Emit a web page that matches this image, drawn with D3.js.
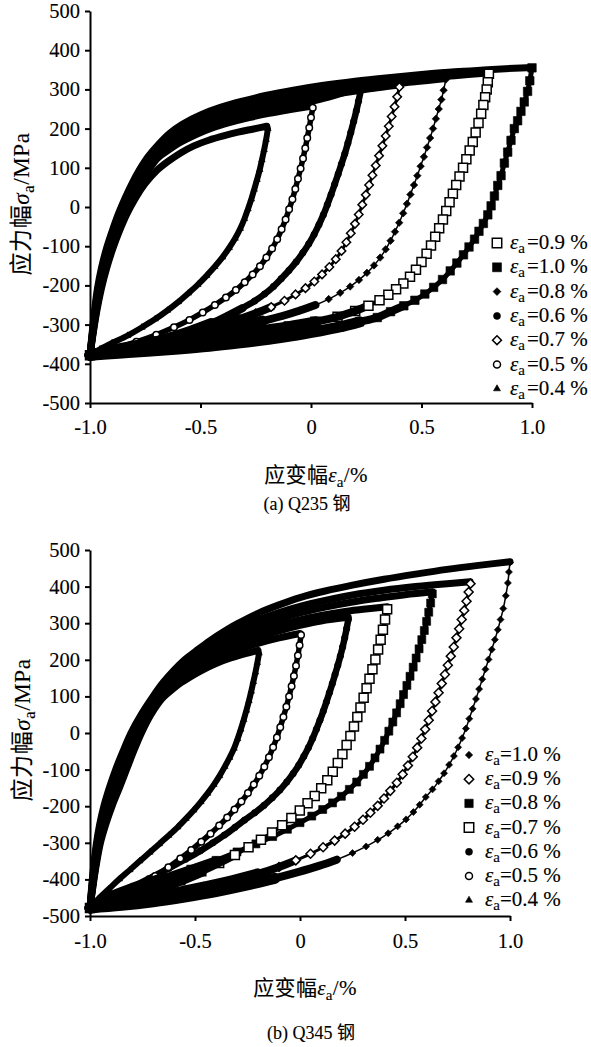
<!DOCTYPE html>
<html><head><meta charset="utf-8">
<script src="https://cdn.jsdelivr.net/npm/d3@7"></script>
<style>
body{margin:0;background:#fff}
svg{display:block;font-family:"Liberation Serif","Times New Roman","Noto Sans CJK SC",serif}
text{font-family:"Liberation Serif","Times New Roman","Noto Sans CJK SC",serif;fill:#000;stroke:#000;stroke-width:0.12px}
</style>
</head><body>
<svg id="c" width="591" height="1047"></svg>
<script>
// ---------- axis ticks ----------
const yTicks = [-500,-400,-300,-200,-100,0,100,200,300,400,500];
const xTicks = [-1,-0.5,0,0.5,1];
const xTickLabels = ["-1.0","-0.5","0","0.5","1.0"];
const amplitudes = ["0.4","0.5","0.6","0.7","0.8","0.9","1.0"];
const legendOrderA = ["0.9","1.0","0.8","0.6","0.7","0.5","0.4"];
const legendOrderB = ["1.0","0.9","0.8","0.7","0.6","0.5","0.4"];

// ---------- (a) Q235: loading (up) and unloading (down) branches, [strain %, stress MPa] ----------
const q235_up_10 = [[-1,-378],[-0.99,-320],[-0.979,-262],[-0.966,-207],[-0.948,-155],[-0.926,-107],[-0.9,-62],[-0.872,-18],[-0.842,22],[-0.81,60],[-0.775,96],[-0.738,128],[-0.69,160],[-0.64,188],[-0.58,212],[-0.5,235],[-0.41,254],[-0.31,270],[-0.2,285],[-0.08,298],[0.05,310],[0.2,321],[0.35,330],[0.5,338],[0.65,345],[0.8,350],[0.92,354],[1.0,356]];
const q235_up_09 = [[-1,-378],[-0.989,-320],[-0.977,-262],[-0.963,-207],[-0.944,-155],[-0.921,-107],[-0.895,-62],[-0.866,-18],[-0.835,22],[-0.802,60],[-0.767,96],[-0.729,128],[-0.68,157],[-0.63,183],[-0.57,205],[-0.5,225],[-0.41,243],[-0.31,259],[-0.2,273],[-0.08,286],[0.05,298],[0.2,310],[0.35,320],[0.5,328],[0.65,335],[0.8,342]];
const q235_up_08 = [[-1,-378],[-0.988,-320],[-0.975,-262],[-0.96,-207],[-0.94,-155],[-0.916,-107],[-0.889,-62],[-0.86,-18],[-0.828,22],[-0.794,60],[-0.758,96],[-0.72,128],[-0.67,153],[-0.62,178],[-0.56,200],[-0.49,219],[-0.41,236],[-0.31,252],[-0.2,266],[-0.08,279],[0.05,291],[0.2,303],[0.35,313],[0.48,320],[0.6,327]];
const q235_up_07 = [[-1,-378],[-0.988,-320],[-0.974,-262],[-0.958,-207],[-0.937,-155],[-0.912,-107],[-0.884,-62],[-0.854,-18],[-0.821,22],[-0.786,60],[-0.75,96],[-0.711,128],[-0.66,150],[-0.61,174],[-0.55,195],[-0.48,213],[-0.4,229],[-0.3,245],[-0.2,258],[-0.08,271],[0.05,283],[0.18,294],[0.3,304],[0.4,311]];
const q235_up_06 = [[-1,-378],[-0.987,-320],[-0.972,-262],[-0.955,-207],[-0.933,-155],[-0.908,-107],[-0.879,-62],[-0.848,-18],[-0.814,22],[-0.778,60],[-0.741,96],[-0.702,128],[-0.655,147],[-0.6,170],[-0.54,190],[-0.47,207],[-0.39,222],[-0.3,236],[-0.2,249],[-0.1,260],[0.0,269],[0.08,280],[0.15,292],[0.2,302]];
const q235_up_05 = [[-1,-378],[-0.986,-320],[-0.97,-262],[-0.952,-207],[-0.929,-155],[-0.903,-107],[-0.873,-62],[-0.841,-18],[-0.806,22],[-0.77,60],[-0.732,96],[-0.693,125],[-0.65,143],[-0.59,165],[-0.52,185],[-0.45,201],[-0.37,215],[-0.28,228],[-0.19,239],[-0.1,248],[0.0,257]];
const q235_up_04 = [[-1,-378],[-0.985,-320],[-0.968,-262],[-0.948,-207],[-0.924,-155],[-0.897,-107],[-0.867,-62],[-0.833,-18],[-0.795,22],[-0.75,60],[-0.7,92],[-0.65,115],[-0.59,138],[-0.53,156],[-0.46,171],[-0.4,181],[-0.33,191],[-0.26,199],[-0.2,206]];

const q235_dn_10 = [[1.0,355],[0.99,322],[0.98,295],[0.965,268],[0.95,244],[0.935,220],[0.92,200],[0.905,170],[0.89,140],[0.875,112],[0.86,80],[0.845,55],[0.83,28],[0.815,3],[0.8,-20],[0.78,-42],[0.76,-62],[0.74,-82],[0.715,-102],[0.69,-122],[0.66,-143],[0.63,-163],[0.595,-185],[0.555,-205],[0.515,-222],[0.47,-238],[0.42,-252],[0.36,-267],[0.3,-282],[0.22,-293],[0.13,-306],[0.03,-317],[-0.08,-328],[-0.2,-338],[-0.33,-347],[-0.46,-355],[-0.6,-362],[-0.74,-368],[-0.87,-373],[-1,-378]];
const q235_dn_09 = [[0.805,340],[0.8,318],[0.795,300],[0.788,280],[0.78,260],[0.77,238],[0.758,214],[0.745,190],[0.732,166],[0.718,144],[0.703,122],[0.688,100],[0.672,78],[0.657,56],[0.642,34],[0.627,12],[0.612,-10],[0.597,-32],[0.58,-54],[0.562,-76],[0.543,-98],[0.523,-119],[0.5,-140],[0.475,-160],[0.448,-178],[0.418,-195],[0.385,-210],[0.35,-224],[0.31,-238],[0.26,-252],[0.2,-265],[0.12,-280],[0.02,-293],[-0.1,-305],[-0.25,-318],[-0.4,-331],[-0.55,-342],[-0.7,-354],[-0.85,-366],[-1,-378]];
const q235_dn_08 = [[0.61,325],[0.6,298],[0.59,274],[0.578,250],[0.565,225],[0.552,200],[0.539,176],[0.525,152],[0.511,128],[0.496,104],[0.481,80],[0.466,56],[0.45,32],[0.434,8],[0.417,-16],[0.399,-40],[0.38,-63],[0.36,-86],[0.338,-108],[0.313,-129],[0.285,-149],[0.253,-168],[0.217,-186],[0.177,-203],[0.132,-219],[0.08,-235],[0.02,-250],[-0.05,-264],[-0.13,-278],[-0.22,-291],[-0.33,-305],[-0.46,-320],[-0.6,-334],[-0.74,-348],[-0.87,-362],[-1,-378]];
const q235_dn_07 = [[0.4,306],[0.39,281],[0.378,256],[0.365,231],[0.352,206],[0.338,181],[0.323,156],[0.308,131],[0.293,106],[0.278,81],[0.263,56],[0.248,31],[0.232,6],[0.216,-19],[0.199,-43],[0.18,-67],[0.16,-90],[0.138,-112],[0.112,-133],[0.083,-153],[0.05,-172],[0.015,-190],[-0.025,-207],[-0.07,-223],[-0.12,-239],[-0.18,-255],[-0.25,-271],[-0.33,-287],[-0.42,-303],[-0.52,-319],[-0.63,-335],[-0.75,-350],[-0.87,-364],[-1,-378]];
const q235_dn_06 = [[0.225,297],[0.215,270],[0.205,245],[0.193,218],[0.18,190],[0.167,163],[0.153,136],[0.138,110],[0.123,84],[0.107,58],[0.091,32],[0.074,6],[0.056,-20],[0.036,-45],[0.014,-70],[-0.01,-94],[-0.037,-117],[-0.067,-140],[-0.1,-162],[-0.135,-183],[-0.17,-203],[-0.21,-222],[-0.255,-240],[-0.31,-258],[-0.375,-277],[-0.45,-297],[-0.54,-316],[-0.64,-334],[-0.75,-351],[-0.87,-365],[-1,-378]];
const q235_dn_05 = [[0.008,253],[0.0,228],[-0.008,202],[-0.017,176],[-0.026,150],[-0.036,124],[-0.047,98],[-0.059,72],[-0.071,46],[-0.084,20],[-0.099,-6],[-0.115,-32],[-0.133,-57],[-0.153,-82],[-0.176,-106],[-0.202,-129],[-0.231,-151],[-0.264,-172],[-0.3,-192],[-0.34,-212],[-0.385,-231],[-0.435,-250],[-0.49,-269],[-0.55,-288],[-0.62,-307],[-0.7,-326],[-0.79,-344],[-0.89,-361],[-1,-378]];
const q235_dn_04 = [[-0.195,200],[-0.203,172],[-0.212,146],[-0.222,120],[-0.232,95],[-0.244,70],[-0.257,45],[-0.27,20],[-0.285,-5],[-0.301,-30],[-0.32,-55],[-0.343,-80],[-0.37,-104],[-0.4,-128],[-0.435,-152],[-0.472,-175],[-0.512,-198],[-0.555,-220],[-0.6,-242],[-0.65,-264],[-0.705,-286],[-0.765,-307],[-0.83,-328],[-0.9,-347],[-0.955,-363],[-1,-378]];

// ---------- (b) Q345 ----------
const q345_up_10 = [[-1,-478],[-0.992,-420],[-0.982,-360],[-0.969,-300],[-0.954,-250],[-0.934,-200],[-0.908,-150],[-0.878,-100],[-0.843,-50],[-0.805,0],[-0.757,50],[-0.7,100],[-0.652,138],[-0.6,172],[-0.55,200],[-0.5,222],[-0.43,252],[-0.36,278],[-0.3,298],[-0.2,327],[-0.1,350],[0,370],[0.12,388],[0.25,404],[0.4,420],[0.55,434],[0.7,447],[0.85,458],[1.0,468]];
const q345_up_09 = [[-1,-478],[-0.991,-420],[-0.98,-360],[-0.966,-300],[-0.95,-250],[-0.929,-200],[-0.903,-150],[-0.873,-100],[-0.838,-50],[-0.798,0],[-0.748,50],[-0.692,100],[-0.645,135],[-0.595,166],[-0.545,192],[-0.5,212],[-0.43,238],[-0.36,262],[-0.3,282],[-0.2,308],[-0.1,329],[0,346],[0.12,362],[0.25,377],[0.4,390],[0.55,400],[0.7,408],[0.81,413]];
const q345_up_08 = [[-1,-478],[-0.99,-420],[-0.978,-360],[-0.963,-300],[-0.946,-250],[-0.924,-200],[-0.897,-150],[-0.867,-100],[-0.832,-50],[-0.79,0],[-0.74,50],[-0.684,100],[-0.64,131],[-0.59,160],[-0.545,185],[-0.5,204],[-0.43,228],[-0.36,250],[-0.3,267],[-0.2,291],[-0.1,311],[0,328],[0.12,344],[0.25,358],[0.38,369],[0.5,378],[0.63,386]];
const q345_up_07 = [[-1,-478],[-0.989,-420],[-0.976,-360],[-0.96,-300],[-0.942,-250],[-0.918,-200],[-0.89,-150],[-0.86,-100],[-0.826,-50],[-0.785,0],[-0.735,50],[-0.678,100],[-0.635,128],[-0.585,155],[-0.54,178],[-0.5,196],[-0.43,218],[-0.36,238],[-0.3,254],[-0.2,276],[-0.1,294],[0,309],[0.1,321],[0.2,331],[0.3,338],[0.415,345]];
const q345_up_06 = [[-1,-478],[-0.988,-420],[-0.974,-360],[-0.957,-300],[-0.937,-250],[-0.912,-200],[-0.883,-150],[-0.853,-100],[-0.82,-50],[-0.78,0],[-0.73,50],[-0.672,100],[-0.63,124],[-0.58,150],[-0.535,171],[-0.5,188],[-0.43,208],[-0.36,226],[-0.3,240],[-0.2,261],[-0.1,279],[0,294],[0.1,306],[0.23,316]];
const q345_up_05 = [[-1,-478],[-0.987,-420],[-0.972,-360],[-0.954,-300],[-0.932,-250],[-0.905,-200],[-0.874,-150],[-0.843,-100],[-0.81,-50],[-0.772,0],[-0.722,50],[-0.665,98],[-0.62,120],[-0.575,143],[-0.53,163],[-0.5,178],[-0.43,197],[-0.36,213],[-0.3,226],[-0.2,245],[-0.1,260],[0,272]];
const q345_up_04 = [[-1,-478],[-0.986,-420],[-0.97,-360],[-0.95,-300],[-0.925,-250],[-0.895,-200],[-0.86,-150],[-0.826,-100],[-0.792,-50],[-0.755,0],[-0.71,50],[-0.655,95],[-0.61,118],[-0.565,138],[-0.515,156],[-0.465,172],[-0.4,190],[-0.33,205],[-0.26,217],[-0.2,226]];

const q345_dn_10 = [[1.0,466],[0.995,440],[0.99,410],[0.98,375],[0.968,340],[0.955,310],[0.942,282],[0.928,255],[0.913,228],[0.898,201],[0.883,174],[0.868,147],[0.853,120],[0.838,93],[0.822,66],[0.806,39],[0.79,12],[0.772,-14],[0.753,-39],[0.733,-63],[0.71,-87],[0.686,-110],[0.66,-132],[0.631,-154],[0.599,-175],[0.57,-196],[0.54,-216],[0.505,-236],[0.465,-255],[0.42,-274],[0.37,-292],[0.315,-310],[0.25,-328],[0.175,-346],[0.09,-363],[-0.01,-380],[-0.12,-397],[-0.25,-415],[-0.4,-433],[-0.55,-448],[-0.7,-461],[-0.85,-471],[-1,-478]];
const q345_dn_09 = [[0.812,408],[0.803,385],[0.793,360],[0.782,335],[0.77,310],[0.758,285],[0.745,260],[0.732,235],[0.718,210],[0.704,185],[0.69,160],[0.675,135],[0.66,110],[0.645,85],[0.629,60],[0.613,35],[0.596,10],[0.578,-15],[0.558,-40],[0.537,-65],[0.514,-89],[0.489,-113],[0.461,-136],[0.43,-158],[0.4,-179],[0.37,-199],[0.335,-218],[0.3,-237],[0.26,-256],[0.215,-275],[0.165,-294],[0.11,-312],[0.05,-330],[-0.02,-348],[-0.1,-366],[-0.2,-385],[-0.32,-403],[-0.46,-421],[-0.62,-440],[-0.8,-460],[-1,-478]];
const q345_dn_08 = [[0.63,380],[0.622,355],[0.613,330],[0.603,305],[0.592,280],[0.58,255],[0.567,230],[0.553,205],[0.539,180],[0.524,155],[0.509,130],[0.493,105],[0.477,80],[0.46,55],[0.442,30],[0.423,5],[0.403,-20],[0.381,-44],[0.357,-68],[0.331,-91],[0.302,-113],[0.27,-134],[0.235,-154],[0.197,-173],[0.155,-191],[0.108,-209],[0.056,-227],[0,-245],[-0.06,-263],[-0.13,-283],[-0.21,-303],[-0.3,-325],[-0.4,-348],[-0.52,-372],[-0.65,-397],[-0.8,-425],[-0.92,-452],[-1,-478]];
const q345_dn_07 = [[0.415,338],[0.405,310],[0.395,282],[0.384,255],[0.372,228],[0.359,201],[0.345,174],[0.331,148],[0.317,122],[0.303,96],[0.288,70],[0.273,44],[0.257,18],[0.24,-8],[0.222,-33],[0.202,-58],[0.18,-82],[0.156,-106],[0.13,-129],[0.101,-151],[0.07,-172],[0.036,-192],[-0.001,-212],[-0.041,-232],[-0.085,-252],[-0.133,-272],[-0.186,-292],[-0.245,-312],[-0.31,-333],[-0.385,-355],[-0.47,-378],[-0.57,-402],[-0.69,-428],[-0.84,-455],[-1,-478]];
const q345_dn_06 = [[0.23,310],[0.222,285],[0.213,260],[0.203,235],[0.192,210],[0.18,185],[0.167,160],[0.154,135],[0.14,110],[0.126,85],[0.111,60],[0.095,35],[0.078,10],[0.06,-15],[0.04,-40],[0.018,-64],[-0.006,-88],[-0.033,-111],[-0.063,-134],[-0.096,-156],[-0.132,-177],[-0.172,-198],[-0.216,-218],[-0.264,-238],[-0.31,-258],[-0.36,-279],[-0.415,-300],[-0.475,-322],[-0.545,-345],[-0.625,-370],[-0.72,-398],[-0.83,-430],[-0.93,-458],[-1,-478]];
const q345_dn_05 = [[0.005,268],[-0.002,240],[-0.01,212],[-0.019,184],[-0.029,156],[-0.04,128],[-0.052,100],[-0.065,72],[-0.079,44],[-0.094,16],[-0.11,-12],[-0.128,-39],[-0.148,-66],[-0.17,-92],[-0.194,-117],[-0.22,-141],[-0.248,-164],[-0.279,-187],[-0.312,-209],[-0.347,-231],[-0.385,-253],[-0.426,-275],[-0.47,-297],[-0.518,-320],[-0.57,-343],[-0.627,-367],[-0.69,-391],[-0.76,-416],[-0.84,-442],[-0.92,-462],[-1,-478]];
const q345_dn_04 = [[-0.195,218],[-0.203,192],[-0.212,166],[-0.222,140],[-0.232,114],[-0.243,88],[-0.255,62],[-0.268,36],[-0.282,10],[-0.297,-16],[-0.314,-42],[-0.335,-67],[-0.358,-92],[-0.383,-117],[-0.41,-141],[-0.44,-165],[-0.472,-188],[-0.506,-211],[-0.543,-234],[-0.582,-257],[-0.625,-280],[-0.67,-303],[-0.715,-326],[-0.763,-350],[-0.81,-374],[-0.86,-399],[-0.91,-426],[-0.96,-453],[-1,-478]];

// ---------- assemble ----------
const q235Data = {"0.4":[q235_up_04,q235_dn_04],"0.5":[q235_up_05,q235_dn_05],"0.6":[q235_up_06,q235_dn_06],"0.7":[q235_up_07,q235_dn_07],"0.8":[q235_up_08,q235_dn_08],"0.9":[q235_up_09,q235_dn_09],"1.0":[q235_up_10,q235_dn_10]};
const q345Data = {"0.4":[q345_up_04,q345_dn_04],"0.5":[q345_up_05,q345_dn_05],"0.6":[q345_up_06,q345_dn_06],"0.7":[q345_up_07,q345_dn_07],"0.8":[q345_up_08,q345_dn_08],"0.9":[q345_up_09,q345_dn_09],"1.0":[q345_up_10,q345_dn_10]};

// marker styles: [shape, filled, marker size px, unloading line width px]
const styleA = {"1.0":["square",true,8.5,5],"0.9":["square",false,9,4],"0.8":["diamond",true,7.5,1.5],"0.7":["diamond",false,8.5,3],"0.6":["circle",true,6.5,6.5],"0.5":["circle",false,6.5,5.5],"0.4":["triangle",true,6.5,6]};
const styleB = {"1.0":["diamond",true,7,1.5],"0.9":["diamond",false,9,3],"0.8":["square",true,8,5],"0.7":["square",false,9,4],"0.6":["circle",true,6.5,6.5],"0.5":["circle",false,6.5,5.5],"0.4":["triangle",true,6.5,6]};

const svg = d3.select("#c");
const FONT = '"Liberation Serif","Times New Roman","Noto Sans CJK SC",serif';

function symPath(shape, s){
  if (shape==="square") return d3.symbol(d3.symbolSquare, s*s)();
  if (shape==="diamond") return d3.symbol(d3.symbolSquare, s*s/2)();
  if (shape==="circle") return d3.symbol(d3.symbolCircle, Math.PI*s*s/4)();
  return d3.symbol(d3.symbolTriangle, s*s*0.433)();
}
function placeMarker(sel, shape, filled, s, px, py){
  sel.append("path").attr("d", symPath(shape,s))
    .attr("transform", `translate(${px},${py})` + (shape==="diamond" ? " rotate(45)" : ""))
    .attr("fill", filled ? "#000" : "#fff").attr("stroke","#000")
    .attr("stroke-width", filled ? 0.6 : 1.5);
}

function titleText(g, cx, cy, rot, parts, size, ls){
  const t = g.append("text")
    .attr("transform", `translate(${cx},${cy})` + (rot ? " rotate(-90)" : ""))
    .attr("text-anchor","middle").attr("font-size", size).attr("font-family", FONT).attr("y", size*0.35)
    .attr("letter-spacing", ls || 0);
  parts.forEach(p=>{
    const s = t.append("tspan").text(p.t);
    if (p.i) s.attr("font-style","italic");
    if (p.sub) s.attr("font-size", size*0.72).attr("dy", size*0.22);
    if (p.up) s.attr("dy", -size*0.22);
  });
}

function drawChart(cfg){
  const x = d3.scaleLinear().domain([-1,1]).range([cfg.x0, cfg.x1]);
  const y = d3.scaleLinear().domain([-500,500]).range([cfg.yb, cfg.yt]);
  const g = svg.append("g");
  const line = d3.line().x(d=>x(d[0])).y(d=>y(d[1])).curve(d3.curveCatmullRom.alpha(0.5));
  const plot = g.append("g");
  const stroke = (sel,w)=>sel.attr("fill","none").attr("stroke","#000").attr("stroke-width", w)
      .attr("stroke-linejoin","round").attr("stroke-linecap","round");
  // unloading lines (per-series width)
  amplitudes.forEach(a=>{
    stroke(plot.append("path").attr("d", line(cfg.data[a][1])), cfg.style[a][3]);
  });
  // markers inside the converged lower band (partly hidden by the band)
  amplitudes.slice().reverse().forEach(a=>{
    const st = cfg.style[a];
    const mg = plot.append("g");
    cfg.data[a][1].filter(d=>d[1] <= cfg.tailY).forEach(d=> placeMarker(mg, st[0], st[1], st[2], x(d[0]), y(d[1])));
  });
  // converged tails of the larger loops: many overlapping cycles form a wide band
  cfg.tailAmps.forEach(a=>{
    const d1 = cfg.data[a][1];
    const i1 = d1.findIndex(d=>d[1] <= cfg.tailY);
    const i2 = d1.findIndex(d=>d[1] <= cfg.tailY2);
    stroke(plot.append("path").attr("d", line(d1.slice(Math.max(0,i1-1)))), cfg.tailW1);
    stroke(plot.append("path").attr("d", line(d1.slice(Math.max(0,i2-1)))), cfg.tailW2);
  });
  // loading lines (dense overlapping markers -> solid band)
  amplitudes.forEach(a=>{
    stroke(plot.append("path").attr("d", line(cfg.data[a][0])), cfg.upW);
  });
  // unloading markers on the distinct part of each branch
  amplitudes.slice().reverse().forEach(a=>{
    const st = cfg.style[a];
    const mg = plot.append("g");
    cfg.data[a][1].filter(d=>d[1] > cfg.tailY).forEach(d=> placeMarker(mg, st[0], st[1], st[2], x(d[0]), y(d[1])));
  });

  // axes
  const ax = g.append("g").attr("transform",`translate(${cfg.x0},0)`)
    .call(d3.axisLeft(y).tickValues(yTicks).tickFormat(d=>String(d)).tickSize(5).tickSizeOuter(0).tickPadding(5));
  const bx = g.append("g").attr("transform",`translate(0,${cfg.yb})`)
    .call(d3.axisBottom(x).tickValues(xTicks).tickFormat((d,i)=>xTickLabels[i]).tickSize(5).tickSizeOuter(0).tickPadding(cfg.xpad));
  [ax,bx].forEach(a=>{
    a.attr("font-family", FONT);
    a.selectAll("path,line").attr("stroke","#000").attr("stroke-width",2);
    a.selectAll("text").attr("font-size",20.5).attr("font-family",FONT).attr("fill","#000");
  });

  // legend
  cfg.legendOrder.forEach((a,i)=>{
    const st = cfg.style[a];
    const ly = cfg.ly0 + i*cfg.lstep;
    placeMarker(g, st[0], st[1], Math.max(st[2]*1.05, 7), cfg.lmx, ly);
    const t = g.append("text").attr("x", cfg.ltx).attr("y", ly+6).attr("font-size",21).attr("font-family",FONT);
    t.append("tspan").attr("font-style","italic").text("ε");
    t.append("tspan").attr("font-size",15).attr("dy",4).text("a");
    t.append("tspan").attr("dy",-4).attr("dx", cfg.ldx).text("="+a+" %");
  });

  // titles
  titleText(g, cfg.ytx, cfg.yty, true, [{t:"应力幅"},{t:"σ",i:1},{t:"a",sub:1},{t:"/MPa",up:1}], 23, 0.6);
  titleText(g, cfg.xtx, cfg.xty, false, [{t:"应变幅"},{t:"ε",i:1},{t:"a",sub:1},{t:"/%",up:1}], 21, 0.3);
  titleText(g, cfg.cx, cfg.cy, false, [{t:cfg.caption}], 18, 0);
}

drawChart({data:q235Data, style:styleA, legendOrder:legendOrderA,
  x0:90, x1:532, yb:403, yt:11, xpad:11, upW:7,
  tailY:-262, tailY2:-300, tailW1:8, tailW2:11, tailAmps:["0.6","0.7","0.8","0.9","1.0"],
  lmx:497, ltx:510, ly0:243, lstep:24.3, ldx:2,
  ytx:21, yty:204, xtx:316, xty:475, cx:307, cy:504, caption:"(a) Q235 钢"});
drawChart({data:q345Data, style:styleB, legendOrder:legendOrderB,
  x0:90, x1:510, yb:916, yt:550, xpad:12.5, upW:7,
  tailY:-350, tailY2:-400, tailW1:8, tailW2:11, tailAmps:["0.7","0.8","0.9","1.0"],
  lmx:469, ltx:485, ly0:755, lstep:24.2, ldx:0,
  ytx:22, yty:730, xtx:305, xty:988, cx:311, cy:1033, caption:"(b) Q345 钢"});
</script>
</body></html>
